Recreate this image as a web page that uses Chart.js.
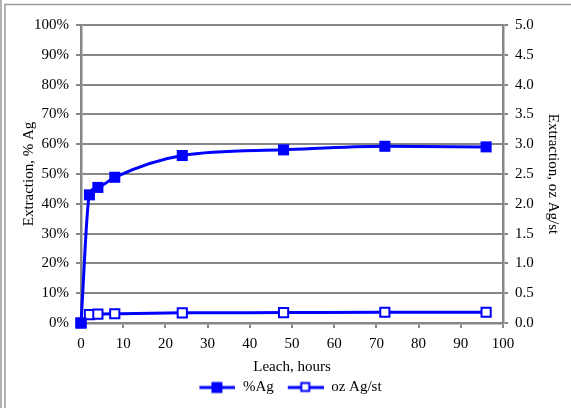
<!DOCTYPE html>
<html>
<head>
<meta charset="utf-8">
<script src="https://cdn.jsdelivr.net/npm/chart.js@4.4.1/dist/chart.umd.min.js"></script>
<style>
  html, body { margin: 0; padding: 0; background: #fff; }
  #wrap { width: 571px; height: 408px; position: relative; }
</style>
</head>
<body>
<div id="wrap"><canvas id="c"></canvas></div>
<script>
// leach time (hours) and extraction readings
const hours = [0, 2, 4, 8, 24, 48, 72, 96];
const pctAg = [0, 43.0, 45.5, 48.9, 56.2, 58.1, 59.3, 59.1];
const ozAgSt = [0, 0.14, 0.15, 0.155, 0.17, 0.175, 0.18, 0.18];

const xTicks = [0, 10, 20, 30, 40, 50, 60, 70, 80, 90, 100];
const BLUE = '#0000FF';
const GRAY = '#868686';
const FONT = { family: '"Liberation Serif", "Times New Roman", serif', size: 15 };

// legend swatch: short line with square marker, blank margin on the left for item spacing
function legendSwatch(filled) {
    const cv = document.createElement('canvas');
    cv.width = 46; cv.height = 14;
    const g = cv.getContext('2d');
    g.strokeStyle = BLUE; g.lineWidth = 3;
    g.beginPath(); g.moveTo(10, 7); g.lineTo(46, 7); g.stroke();
    if (filled) {
        g.fillStyle = BLUE; g.fillRect(22, 1.5, 11, 11);
    } else {
        g.fillStyle = '#fff'; g.fillRect(23, 2.5, 9, 9);
        g.lineWidth = 2; g.strokeRect(23.5, 2.5, 8, 8);
    }
    return cv;
}

// thin gray frame on top and left (chart is cropped on the other sides)
const framePlugin = {
    id: 'frame',
    beforeDraw(chart) {
        const ctx = chart.ctx;
        ctx.save();
        ctx.strokeStyle = '#9a9a9a';
        ctx.lineWidth = 1.5;
        ctx.beginPath();
        ctx.moveTo(5, 408); ctx.lineTo(5, 4.5); ctx.lineTo(571, 4.5);
        ctx.moveTo(1, 408); ctx.lineTo(1, 0);
        ctx.stroke();
        ctx.restore();
    }
};

const ctx = document.getElementById('c');
new Chart(ctx, {
    type: 'line',
    data: {
        datasets: [
            {
                label: '%Ag',
                data: hours.map((h, i) => ({ x: h, y: pctAg[i] })),
                borderColor: BLUE,
                backgroundColor: BLUE,
                borderWidth: 3,
                pointStyle: 'rect',
                pointRadius: 7.8,
                pointBorderWidth: 0,
                cubicInterpolationMode: 'monotone',
                clip: false,
                yAxisID: 'y'
            },
            {
                label: 'oz Ag/st',
                data: hours.map((h, i) => ({ x: h, y: ozAgSt[i] })),
                borderColor: BLUE,
                backgroundColor: '#fff',
                borderWidth: 3,
                pointStyle: 'rect',
                pointRadius: 6.5,
                pointBorderWidth: 2,
                cubicInterpolationMode: 'monotone',
                clip: false,
                yAxisID: 'y1'
            }
        ]
    },
    options: {
        responsive: true,
        maintainAspectRatio: false,
        animation: false,
        layout: { padding: { top: 25, left: 0, right: 0, bottom: 3 } },
        plugins: {
            tooltip: { enabled: false },
            legend: {
                position: 'bottom',
                labels: {
                    color: '#000',
                    font: FONT,
                    usePointStyle: true,
                    pointStyleWidth: 46,
                    padding: 4,
                    generateLabels: (chart) => chart.data.datasets.map((ds, i) => ({
                        text: ds.label,
                        pointStyle: legendSwatch(i === 0),
                        fillStyle: 'transparent',
                        strokeStyle: 'transparent',
                        lineWidth: 0,
                        fontColor: '#000',
                        datasetIndex: i
                    }))
                }
            }
        },
        scales: {
            x: {
                type: 'linear',
                min: 0, max: 100,
                afterBuildTicks: (s) => { s.ticks = xTicks.map(v => ({ value: v })); },
                afterFit: (s) => { s.height = 53; },
                ticks: { color: '#000', font: FONT, padding: 7, maxRotation: 0 },
                grid: { drawOnChartArea: false, drawTicks: true, tickLength: 5, color: GRAY, lineWidth: 2 },
                border: { color: GRAY, width: 2.5 },
                title: { display: true, text: 'Leach, hours', color: '#000', font: FONT, padding: { top: 4, bottom: 0 } }
            },
            y: {
                position: 'left',
                min: 0, max: 100,
                ticks: { stepSize: 10, color: '#000', font: FONT, padding: 7, callback: v => v + '%' },
                afterFit: (s) => { s.width = 81; },
                grid: { color: GRAY, lineWidth: 2, tickLength: 5 },
                border: { color: GRAY, width: 2.5 },
                title: { display: true, text: 'Extraction, % Ag', color: '#000', font: FONT, padding: { top: 20, bottom: 0 } }
            },
            y1: {
                position: 'right',
                min: 0, max: 5,
                ticks: { stepSize: 0.5, color: '#000', font: FONT, padding: 7, callback: v => v.toFixed(1) },
                afterFit: (s) => { s.width = 68; },
                grid: { drawOnChartArea: false, color: GRAY, lineWidth: 2, tickLength: 5 },
                border: { color: GRAY, width: 2.5 },
                title: { display: true, text: 'Extraction, oz Ag/st', color: '#000', font: FONT, padding: { top: 9, bottom: 0 } }
            }
        }
    },
    plugins: [framePlugin]
});
</script>
</body>
</html>
